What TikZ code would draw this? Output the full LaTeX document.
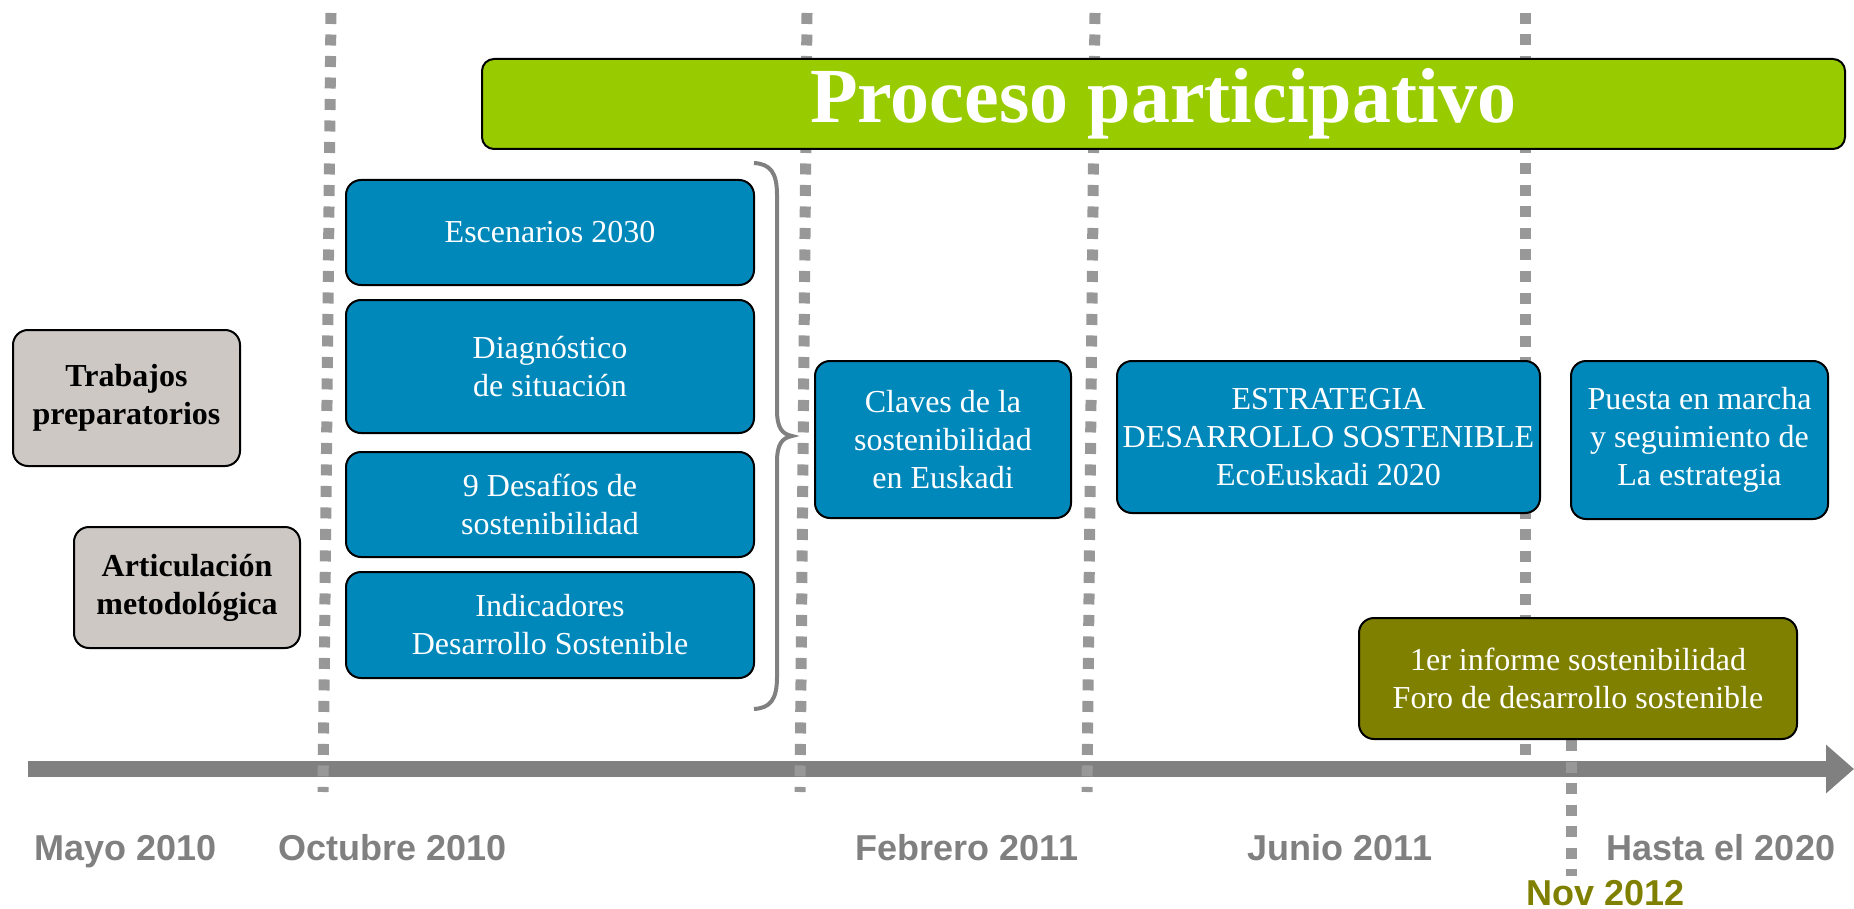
\documentclass[tikz,border=0pt]{standalone}
\usepackage{fontspec}
\setmainfont{Liberation Serif}
\setsansfont{Liberation Sans}
\usetikzlibrary{arrows.meta}

\definecolor{boxblue}{RGB}{0,136,187}
\definecolor{procgreen}{RGB}{153,204,0}
\definecolor{prepgray}{RGB}{205,200,196}
\definecolor{axisgray}{RGB}{128,128,128}
\definecolor{guidegray}{RGB}{152,152,152}
\definecolor{novolive}{RGB}{128,128,0}

\tikzset{
  stagebox/.style={draw=black,line width=2pt,rounded corners=15pt,inner sep=0pt,
    align=center,text=white,font=\fontsize{32}{38}\selectfont},
  bluebox/.style={stagebox,fill=boxblue},
  prepbox/.style={stagebox,fill=prepgray,text=black,font=\fontsize{32}{38}\selectfont\bfseries},
  datelabel/.style={anchor=base,text=axisgray,font=\sffamily\bfseries\fontsize{36}{40}\selectfont},
  guide/.style={guidegray,line width=11pt,dash pattern=on 11pt off 10.5pt},
}

\begin{document}
\begin{tikzpicture}[x=1pt,y=-1pt]
      \useasboundingbox (0,0) rectangle (1854,909);
      % time axis
      \draw[axisgray,line width=16pt,-{Triangle[length=28pt,width=47pt]}] (28,769)--(1854,769);
      % milestones
      \foreach \xa/\xb/\yb in {331/323/792,807/800/792,1095/1087/792,1525/1525/765}
        \draw[guide] (\xa,13)--(\xb,\yb);
      \draw[guide] (1571,740)--(1571,876);
      % boxes
      \node[stagebox,fill=procgreen,rounded corners=12pt,minimum width=1363pt,minimum height=90pt,
        font=\fontsize{78}{80}\selectfont\bfseries] (proceso) at (1163.5,104) {Proceso participativo};
      \node[bluebox,minimum width=408pt,minimum height=105pt] (escenarios) at (550,232.5) {Escenarios 2030};
      \node[bluebox,minimum width=408pt,minimum height=133pt] (diagnostico) at (550,366.5) {Diagnóstico\\de situación};
      \node[bluebox,minimum width=408pt,minimum height=105pt] (desafios) at (550,504.5) {9 Desafíos de\\sostenibilidad};
      \node[bluebox,minimum width=408pt,minimum height=106pt] (indicadores) at (550,625) {Indicadores\\Desarrollo Sostenible};
      \node[prepbox,minimum width=227pt,minimum height=136pt] (trabajos) at (126.5,398) {Trabajos\\preparatorios};
      \node[prepbox,minimum width=226pt,minimum height=121pt] (articulacion) at (187,587.5) {Articulación\\metodológica};
      \node[bluebox,minimum width=256pt,minimum height=157pt] (claves) at (943,439.5) {Claves de la\\sostenibilidad\\en Euskadi};
      \node[bluebox,minimum width=423pt,minimum height=152pt] (estrategia) at (1328.5,437) {ESTRATEGIA\\DESARROLLO SOSTENIBLE\\EcoEuskadi 2020};
      \node[bluebox,minimum width=257pt,minimum height=158pt] (puesta) at (1699.5,440) {Puesta en marcha\\y seguimiento de\\La estrategia};
      \node[stagebox,fill=novolive,minimum width=438pt,minimum height=121pt] (informe) at (1578,678.5) {1er informe sostenibilidad\\Foro de desarrollo sostenible};
      % brace
      \draw[axisgray,line width=4pt] (754,163) .. controls (770,164) and (777,172) .. (777,195)
        --(777,410) .. controls (777,428) and (782,434) .. (792,436)
        .. controls (782,438) and (777,444) .. (777,462)
        --(777,677) .. controls (777,700) and (770,708) .. (754,709);
      % dates
      \node[datelabel] (mayo) at (126,860) {Mayo 2010};
      \node[datelabel] (octubre) at (393,860) {Octubre 2010};
      \node[datelabel] (febrero) at (967,860) {Febrero 2011};
      \node[datelabel] (junio) at (1340,860) {Junio 2011};
      \node[datelabel] (hasta) at (1721,860) {Hasta el 2020};
      \node[datelabel,text=novolive] (nov) at (1606,905) {Nov 2012};
    \end{tikzpicture}
\end{document}
